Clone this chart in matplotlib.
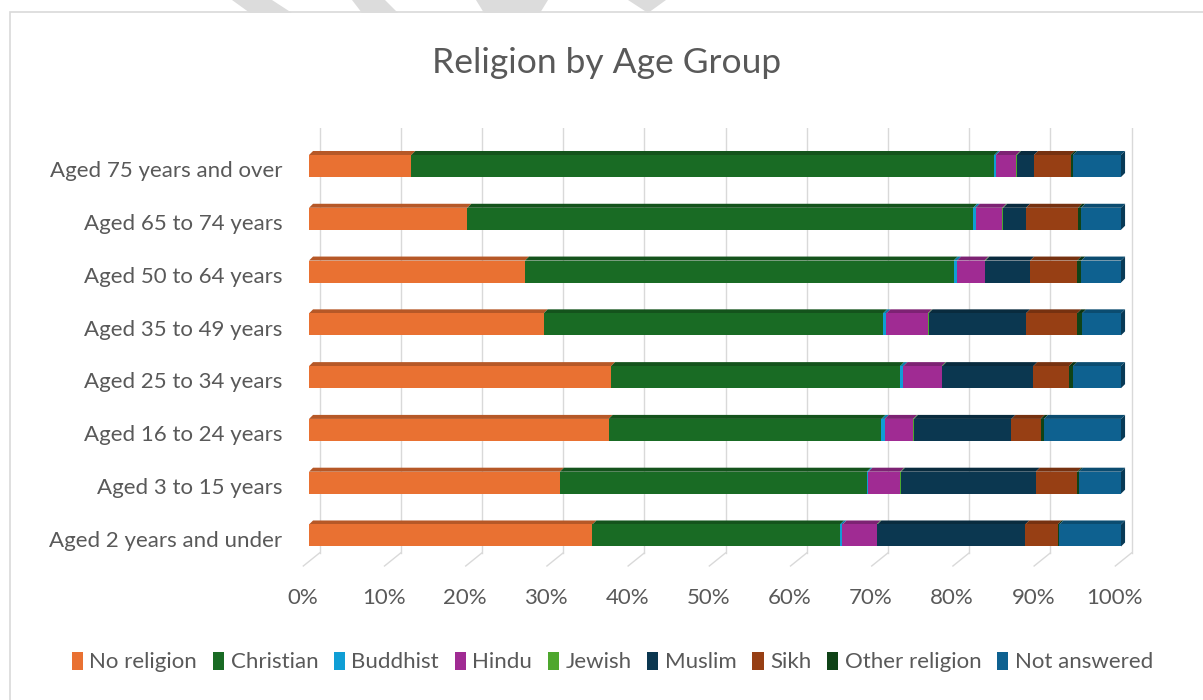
import numpy as np
import matplotlib.pyplot as plt
from matplotlib.patches import Rectangle, Polygon
from matplotlib.colors import to_rgb

plt.rcParams['font.family'] = ['Lato', 'DejaVu Sans']

# Altersgruppen (von unten nach oben)
age_groups = ['Aged 2 years and under', 'Aged 3 to 15 years', 'Aged 16 to 24 years',
              'Aged 25 to 34 years', 'Aged 35 to 49 years', 'Aged 50 to 64 years',
              'Aged 65 to 74 years', 'Aged 75 years and over']

# Anteile in Prozent je Religion
no_religion = [34.9, 30.9, 36.9, 37.2, 28.9, 26.6, 19.5, 12.6]
christian = [30.5, 37.8, 33.6, 35.6, 41.8, 52.8, 62.3, 71.8]
buddhist = [0.3, 0.2, 0.4, 0.4, 0.4, 0.4, 0.3, 0.2]
hindu = [4.2, 3.9, 3.5, 4.7, 5.1, 3.4, 3.3, 2.5]
jewish = [0.1, 0.1, 0.1, 0.1, 0.1, 0.1, 0.1, 0.1]
muslim = [18.2, 16.6, 12.0, 11.2, 12.0, 5.5, 2.8, 2.1]
sikh = [4.0, 5.1, 3.6, 4.4, 6.3, 5.8, 6.4, 4.5]
other_religion = [0.2, 0.2, 0.4, 0.5, 0.6, 0.5, 0.4, 0.3]
not_answered = [7.6, 5.2, 9.5, 5.9, 4.8, 4.9, 4.9, 5.9]

series_names = ['No religion', 'Christian', 'Buddhist', 'Hindu', 'Jewish',
                'Muslim', 'Sikh', 'Other religion', 'Not answered']
series_values = [no_religion, christian, buddhist, hindu, jewish,
                 muslim, sikh, other_religion, not_answered]
colors = ['#E97132', '#196B24', '#0F9ED5', '#A02B93', '#4EA72E',
          '#0B3750', '#973F14', '#0F4317', '#0E6190']

ticks = np.arange(0, 101, 10)
txt_col = '#595959'
grid_col = '#D9D9D9'

# 3D-Optik: Tiefe der Balkenoberseite und der Gitter-"Fuesse"
bar_h = 0.417      # Hoehe der Balkenfront
dx, dy = 0.5, 0.076
grid_shift = 1.3   # Rueckwand liegt etwas rechts
foot_dx = 2.0

def darker(c, f=0.78):
    return tuple(v * f for v in to_rgb(c))

fig = plt.figure(figsize=(12.03, 7.0), dpi=100)
ax = fig.add_axes([290 / 1203, 134 / 700, 850 / 1203, 438 / 700])
ax.set_xlim(-2.34, 102.34)
ax.set_ylim(-0.578, 7.72)
ax.axis('off')

# Rahmen um das Diagramm
fig.patches.append(Rectangle((10 / 1203, -0.01), 1.0, 1 - 12 / 700 + 0.01,
                             transform=fig.transFigure, fill=False,
                             edgecolor=grid_col, linewidth=1.2))

# graue Formen am oberen Rand
shapes = [[(232, 0), (272, 0), (292, 13), (250, 13)],
          [(352, 0), (385, 0), (398, 13), (362, 13)],
          [(476, 0), (548, 0), (540, 13), (484, 13)],
          [(628, 0), (666, 0), (648, 13)]]
for pts in shapes:
    fig.patches.append(Polygon([(x / 1203, 1 - y / 700) for x, y in pts],
                               closed=True, transform=fig.transFigure,
                               facecolor='#DCDCDC', edgecolor='none'))

# Gitterlinien mit schraegem Fuss
y_floor = -0.33
for v in ticks:
    xg = v + grid_shift
    ax.plot([xg, xg], [y_floor, 7.72], color=grid_col, lw=1, zorder=0)
    ax.plot([xg, xg - foot_dx], [y_floor, -0.578], color=grid_col, lw=1,
            zorder=0, clip_on=False)
    ax.text(v - 0.8, -1.18, f'{v}%', ha='center', va='center',
            fontsize=16, color=txt_col)

y = np.arange(len(age_groups))
left = np.zeros(len(age_groups))
for name, vals, col in zip(series_names, series_values, colors):
    vals = np.array(vals)
    ax.barh(y, vals, left=left, height=bar_h, color=col, label=name, zorder=3)
    for yi, l, w in zip(y, left, vals):
        top = yi + bar_h / 2
        ax.add_patch(Polygon([(l, top), (l + dx, top + dy), (l + w + dx, top + dy),
                              (l + w, top)], closed=True, facecolor=darker(col),
                             edgecolor='none', zorder=2))
    left += vals

# rechte Seitenflaeche der Balken
for yi, r in zip(y, left):
    ax.add_patch(Polygon([(r, yi - bar_h / 2), (r, yi + bar_h / 2),
                          (r + dx, yi + bar_h / 2 + dy), (r + dx, yi - bar_h / 2 + dy)],
                         closed=True, facecolor=darker(colors[-1], 0.6),
                         edgecolor='none', zorder=2))

for yi, lab in zip(y, age_groups):
    ax.text(-3.3, yi - 0.1, lab, ha='right', va='center', fontsize=16,
            color=txt_col, clip_on=False)

fig.text(0.504, 0.91, 'Religion by Age Group', ha='center', va='center',
         fontsize=25.5, color=txt_col)

fig.legend(loc='center', bbox_to_anchor=(0.509, 0.054), ncol=9, frameon=False,
           fontsize=16, labelcolor=txt_col, handlelength=0.5, handleheight=0.85,
           handletextpad=0.3, columnspacing=0.7)

fig.savefig('out.png', dpi=100)
